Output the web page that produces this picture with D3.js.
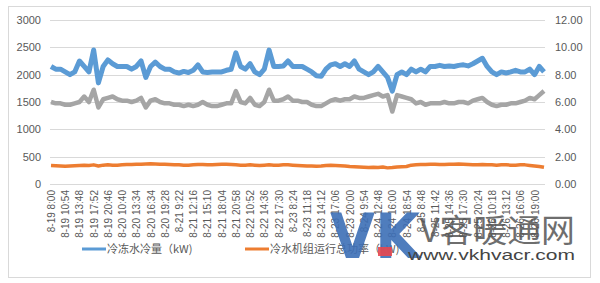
<!DOCTYPE html>
<html>
<head>
<meta charset="utf-8">
<script src="https://cdn.jsdelivr.net/npm/d3@7"></script>
<style>
  body { margin: 0; background: #fff; }
  text { font-family: "Liberation Sans", "Noto Sans CJK SC", sans-serif; }
</style>
</head>
<body>
<div id="chart"></div>
<script>
// x axis labels (one every 3 samples)
var timeLabels = ["8-19 8:00", "8-19 10:54", "8-19 13:48", "8-19 17:52", "8-19 20:46",
  "8-20 10:40", "8-20 13:34", "8-20 16:34", "8-20 19:28", "8-21 9:22",
  "8-21 12:16", "8-21 15:10", "8-21 18:04", "8-21 20:58", "8-22 10:52",
  "8-22 14:36", "8-22 17:30", "8-23 8:24", "8-23 11:18", "8-23 14:12",
  "8-23 17:06", "8-23 20:00", "8-24 9:54", "8-24 12:48", "8-24 16:00",
  "8-24 18:54", "8-25 8:48", "8-25 11:42", "8-25 14:36", "8-25 17:30",
  "8-25 20:24", "8-26 10:18", "8-26 13:12", "8-26 16:06", "8-26 19:00"];
var labelStep = 3;

// chilled water cooling load (kW), left axis
var coolingLoad = [2150, 2100, 2100, 2050, 2000, 2050, 2250, 2150, 2050, 2450,
  1850, 2150, 2270, 2200, 2150, 2150, 2150, 2100, 2150, 2250,
  1950, 2150, 2230, 2150, 2100, 2100, 2050, 2030, 2060, 2040,
  2080, 2180, 2050, 2040, 2050, 2050, 2050, 2080, 2100, 2400,
  2150, 2100, 2200, 2050, 2000, 2100, 2450, 2150, 2150, 2160,
  2250, 2150, 2150, 2150, 2100, 2050, 1980, 1970, 2100, 2180,
  2200, 2150, 2200, 2150, 2250, 2100, 2050, 2000, 2050, 2150,
  2050, 1950, 1700, 2000, 2050, 2000, 2100, 2050, 2100, 2050,
  2150, 2150, 2170, 2150, 2160, 2150, 2170, 2180, 2160, 2200,
  2250, 2300, 2150, 2050, 2000, 2050, 2030, 2050, 2080, 2050,
  2050, 2100, 2000, 2150, 2050];

// chiller total power (kW), left axis
var chillerPower = [340, 335, 330, 325, 330, 335, 340, 345, 340, 350,
  330, 345, 350, 345, 345, 350, 355, 355, 360, 360,
  365, 370, 365, 360, 360, 355, 350, 350, 345, 345,
  350, 355, 355, 350, 350, 355, 360, 360, 355, 350,
  345, 345, 350, 345, 340, 345, 350, 345, 345, 350,
  350, 345, 340, 335, 330, 330, 325, 330, 340, 345,
  340, 335, 330, 320, 315, 310, 305, 300, 305, 300,
  310, 295, 300, 310, 315, 320, 345, 350, 355, 355,
  360, 360, 355, 355, 360, 360, 365, 360, 355, 350,
  350, 355, 350, 350, 345, 350, 350, 345, 345, 350,
  350, 340, 330, 320, 305];

// COP, right axis
var cop = [6.0, 5.9, 5.9, 5.8, 5.8, 5.9, 6.0, 6.4, 6.0, 6.9,
  5.6, 6.2, 6.3, 6.4, 6.2, 6.1, 6.1, 6.0, 6.1, 6.3,
  5.6, 6.1, 6.2, 6.0, 5.9, 5.9, 5.8, 5.8, 5.7, 5.8,
  5.7, 5.8, 6.0, 5.8, 5.7, 5.7, 5.8, 5.9, 5.9, 6.8,
  6.0, 5.9, 6.3, 5.8, 5.7, 6.0, 6.9, 6.1, 6.1, 6.2,
  6.4, 6.1, 6.1, 6.0, 6.0, 5.8, 5.7, 5.7, 5.9, 6.1,
  6.2, 6.1, 6.2, 6.2, 6.4, 6.3, 6.3, 6.4, 6.5, 6.6,
  6.4, 6.5, 5.3, 6.5, 6.4, 6.3, 6.2, 5.9, 6.0, 5.8,
  5.9, 5.9, 5.9, 6.0, 5.9, 5.9, 6.0, 6.0, 5.9, 6.1,
  6.2, 6.3, 6.0, 5.8, 5.7, 5.8, 5.8, 5.9, 5.9, 6.0,
  6.1, 6.3, 6.2, 6.5, 6.8];

var leftTicks = [0, 500, 1000, 1500, 2000, 2500, 3000];
var rightTicks = [0, 2, 4, 6, 8, 10, 12];
var legendNames = ["冷冻水冷量（kW)", "冷水机组运行总功率（kW)"];

var svgWidth = 600;
var svgHeight = 283;
var margin = { top: 20, right: 55, bottom: 99, left: 51 };
var chartWidth = svgWidth - margin.left - margin.right;
var chartHeight = svgHeight - margin.top - margin.bottom;

var svg = d3.select("#chart")
  .append("svg")
  .attr("width", svgWidth)
  .attr("height", svgHeight);

// outer frame
svg.append("rect")
  .attr("x", 8.5).attr("y", 6.5)
  .attr("width", 582).attr("height", 271)
  .attr("fill", "#fff")
  .attr("stroke", "#d9d9d9");

var chartGroup = svg.append("g")
  .attr("transform", `translate(${margin.left}, ${margin.top})`);

var xScale = d3.scaleLinear()
  .domain([0, coolingLoad.length - 1])
  .range([0, chartWidth - 1]);

var yLeft = d3.scaleLinear().domain([0, 3000]).range([chartHeight, 0]);
var yRight = d3.scaleLinear().domain([0, 12]).range([chartHeight, 0]);

// gridlines
chartGroup.append("g")
  .selectAll("line")
  .data(leftTicks)
  .enter()
  .append("line")
  .attr("x1", -1)
  .attr("x2", chartWidth)
  .attr("y1", d => Math.round(yLeft(d)) + 0.5)
  .attr("y2", d => Math.round(yLeft(d)) + 0.5)
  .attr("stroke", "#d9d9d9");

// left axis
var leftAxis = d3.axisLeft(yLeft).tickValues(leftTicks).tickSize(0).tickPadding(10)
  .tickFormat(d3.format("d"));
var gl = chartGroup.append("g").call(leftAxis);
gl.select(".domain").remove();
gl.selectAll("text").attr("fill", "#595959").style("font-size", "11px")
  .style("font-family", "Liberation Sans, sans-serif");

// right axis
var rightAxis = d3.axisRight(yRight).tickValues(rightTicks).tickSize(0).tickPadding(10)
  .tickFormat(d3.format(".2f"));
var gr = chartGroup.append("g").attr("transform", `translate(${chartWidth}, 0)`).call(rightAxis);
gr.select(".domain").remove();
gr.selectAll("text").attr("fill", "#595959").style("font-size", "11px")
  .style("font-family", "Liberation Sans, sans-serif");

// x axis labels
var labelIdx = timeLabels.map((d, i) => i * labelStep);
var bottomAxis = d3.axisBottom(xScale)
  .tickValues(labelIdx)
  .tickSize(0)
  .tickFormat((d, i) => timeLabels[i]);
var gx = chartGroup.append("g")
  .attr("transform", `translate(0, ${chartHeight})`)
  .call(bottomAxis);
gx.select(".domain").remove();
gx.selectAll("text")
  .attr("fill", "#595959")
  .style("font-size", "10px")
  .style("font-family", "Liberation Sans, sans-serif")
  .attr("text-anchor", "end")
  .attr("transform", "rotate(-90)")
  .attr("x", -6)
  .attr("y", 0)
  .attr("dy", "0.35em");

// lines
var lineLeft = d3.line().x((d, i) => xScale(i)).y(d => yLeft(d));
var lineRight = d3.line().x((d, i) => xScale(i)).y(d => yRight(d));

chartGroup.append("path")
  .datum(cop)
  .attr("d", lineRight)
  .attr("fill", "none")
  .attr("stroke", "#a5a5a5")
  .attr("stroke-width", 4.5)
  .attr("stroke-linejoin", "round");

chartGroup.append("path")
  .datum(coolingLoad)
  .attr("d", lineLeft)
  .attr("fill", "none")
  .attr("stroke", "#5b9bd5")
  .attr("stroke-width", 5)
  .attr("stroke-linejoin", "round");

chartGroup.append("path")
  .datum(chillerPower)
  .attr("d", lineLeft)
  .attr("fill", "none")
  .attr("stroke", "#ed7d31")
  .attr("stroke-width", 3.5)
  .attr("stroke-linejoin", "round");

// legend
var legendColors = ["#5b9bd5", "#ed7d31"];
var legendX = [82, 245];
var legend = svg.append("g")
  .selectAll("g")
  .data(legendNames)
  .enter()
  .append("g")
  .attr("transform", (d, i) => `translate(${legendX[i]}, 249)`);
legend.append("line")
  .attr("x1", 0).attr("x2", 24)
  .attr("stroke", (d, i) => legendColors[i])
  .attr("stroke-width", 3);
legend.append("text")
  .attr("x", 25)
  .attr("dy", "0.35em")
  .attr("fill", "#595959")
  .style("font-size", "11px")
  .style("font-family", "Noto Sans CJK SC, sans-serif")
  .text(d => d);

// watermark
var wm = svg.append("g");
wm.append("text")
  .attr("x", 330).attr("y", 258)
  .attr("textLength", 90)
  .attr("lengthAdjust", "spacingAndGlyphs")
  .attr("fill", "#3d6fb6")
  .attr("opacity", 0.9)
  .style("font-size", "62px")
  .style("font-weight", "bold")
  .style("font-family", "DejaVu Sans, sans-serif")
  .text("VK");
wm.append("rect")
  .attr("x", 378).attr("y", 247).attr("width", 14).attr("height", 9)
  .attr("fill", "#e8474f").attr("opacity", 0.9);
wm.append("text")
  .attr("x", 420).attr("y", 242)
  .attr("textLength", 155)
  .attr("lengthAdjust", "spacingAndGlyphs")
  .attr("fill", "#555")
  .attr("opacity", 0.85)
  .style("font-size", "32px")
  .style("font-family", "Noto Sans CJK SC, serif")
  .text("V客暖通网");
wm.append("text")
  .attr("x", 408).attr("y", 260)
  .attr("textLength", 167)
  .attr("lengthAdjust", "spacingAndGlyphs")
  .attr("fill", "#444")
  .style("font-size", "15px")
  .style("font-family", "Liberation Sans, sans-serif")
  .text("www.vkhvacr.com");
</script>
</body>
</html>
